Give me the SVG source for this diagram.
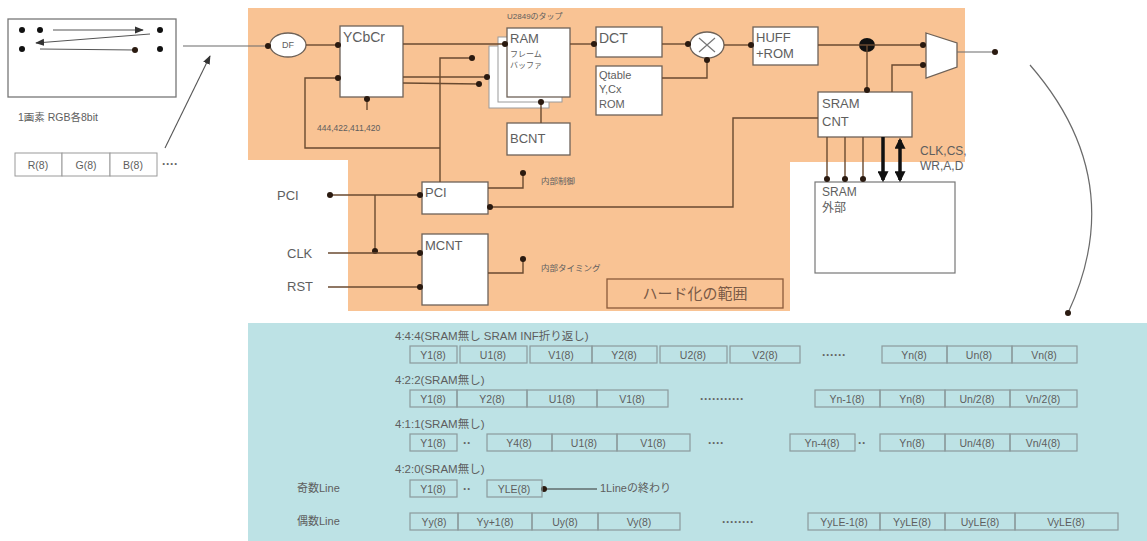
<svg xmlns="http://www.w3.org/2000/svg" width="1147" height="541" viewBox="0 0 1147 541">
<defs>
<style>
text{font-family:"Liberation Sans","Noto Sans CJK JP",sans-serif;fill:#5e5e5e}
.blk{fill:#fff;stroke:#6e6258;stroke-width:1.3}
.blk2{fill:#fff;stroke:#9a9a9a;stroke-width:1}
.ln{fill:none;stroke:#6a4a30;stroke-width:1.4}
.lg{fill:none;stroke:#6a6a6a;stroke-width:1.2}
.cell{fill:none;stroke:#8b9a9c;stroke-width:1.2}
.ct{font-size:10.5px;text-anchor:middle}
.rl{font-size:11.5px}
.bt{font-size:14px}
.sm{font-size:9px}
.dots{font-size:12px;font-weight:bold;fill:#666}
</style>
<marker id="dot" viewBox="0 0 8 8" refX="4" refY="4" markerWidth="8" markerHeight="8" markerUnits="userSpaceOnUse"><circle cx="4" cy="4" r="3" fill="#2a1a10"/></marker>
<marker id="arr" viewBox="0 0 10 10" refX="9" refY="5" markerWidth="9" markerHeight="9" markerUnits="userSpaceOnUse" orient="auto"><path d="M0,1 L10,5 L0,9 Z" fill="#333"/></marker>
<marker id="tarr" viewBox="0 0 10 10" refX="8" refY="5" markerWidth="11" markerHeight="11" markerUnits="userSpaceOnUse" orient="auto-start-reverse"><path d="M0,0 L10,5 L0,10 Z" fill="#111"/></marker>
</defs>

<!-- background regions -->
<g id="hw-area">
<path d="M248,8 H965 V162 H790 V311 H348 V160 H248 Z" fill="#F9C394"/>
</g>
<g id="format-panel">
<rect x="248" y="323" width="899" height="218" fill="#BDE2E5"/>
</g>

<!-- left pixel image -->
<g id="pixel-image">
<rect x="8" y="19" width="168" height="78" fill="#fff" stroke="#777" stroke-width="1.3"/>
<circle cx="22" cy="30" r="3" fill="#111"/>
<circle cx="40" cy="30" r="3" fill="#111"/>
<circle cx="160" cy="30" r="3" fill="#111"/>
<circle cx="22" cy="49" r="3" fill="#111"/>
<circle cx="160" cy="49" r="3" fill="#111"/>
<line x1="53" y1="30" x2="143" y2="30" stroke="#555" stroke-width="1" marker-end="url(#arr)"/>
<line x1="150" y1="34" x2="36" y2="43" stroke="#555" stroke-width="1" marker-end="url(#arr)"/>
<line x1="40" y1="49" x2="135" y2="50" stroke="#555" stroke-width="1" marker-end="url(#dot)"/>
<text x="18" y="121" font-size="10.5">1画素  RGB各8bit</text>
</g>
<g id="rgb-cells">
<rect x="15" y="153" width="47" height="23" class="blk2"/>
<rect x="62" y="153" width="48" height="23" class="blk2"/>
<rect x="110" y="153" width="47" height="23" class="blk2"/>
<text x="38" y="169" class="ct" font-size="11">R(8)</text>
<text x="86" y="169" class="ct" font-size="11">G(8)</text>
<text x="133" y="169" class="ct" font-size="11">B(8)</text>
<text x="162" y="168" class="dots">····</text>
</g>

<!-- nodes -->
<g id="df"><ellipse cx="288" cy="45" rx="18" ry="12" class="blk"/><text x="288" y="48" class="sm" text-anchor="middle">DF</text></g>
<g id="ycbcr"><rect x="340" y="26" width="63" height="71" class="blk"/><text x="343" y="42" class="bt">YCbCr</text></g>
<g id="ycbcr-label"><text x="317" y="131" font-size="8.5">444,422,411,420</text></g>
<g id="ram">
<rect x="489" y="46" width="60" height="62" class="blk2"/>
<rect x="498" y="37" width="64" height="65" class="blk2"/>
<rect x="507" y="28" width="63" height="69" class="blk"/>
<text x="510" y="43" font-size="13">RAM</text>
<text x="510" y="57" font-size="8">フレーム</text>
<text x="510" y="68" font-size="8">バッファ</text>
<text x="507" y="19" font-size="8">U2849のタップ</text>
</g>
<g id="bcnt"><rect x="507" y="123" width="63" height="32" class="blk"/><text x="510" y="143" font-size="13">BCNT</text></g>
<g id="dct"><rect x="596" y="27" width="66" height="30" class="blk"/><text x="599" y="43" font-size="14">DCT</text></g>
<g id="qtable"><rect x="596" y="66" width="66" height="49" class="blk"/><text x="599" y="79" font-size="11">Qtable</text><text x="599" y="93" font-size="11">Y,Cx</text><text x="599" y="108" font-size="11">ROM</text></g>
<g id="mult"><ellipse cx="707" cy="45" rx="17" ry="13" class="blk"/><path d="M699,38 L715,52 M715,38 L699,52" stroke="#777" stroke-width="1.2"/></g>
<g id="huff"><rect x="753" y="27" width="65" height="38" class="blk"/><text x="756" y="42" font-size="13">HUFF</text><text x="756" y="58" font-size="13">+ROM</text></g>
<g id="junction"><ellipse cx="867" cy="45" rx="8" ry="7" fill="#111"/></g>
<g id="mux"><path d="M926,33 L957,43 L957,67 L926,78 Z" class="blk"/></g>
<g id="sram-cnt"><rect x="818" y="92" width="94" height="45" class="blk"/><text x="822" y="108" font-size="13">SRAM</text><text x="822" y="126" font-size="13">CNT</text></g>
<g id="sram-ext"><rect x="815" y="182" width="140" height="91" fill="#fff" stroke="#777" stroke-width="1.2"/><text x="822" y="196" font-size="12">SRAM</text><text x="822" y="212" font-size="12">外部</text></g>
<g id="sram-sig"><text x="920" y="155" font-size="12">CLK,CS,</text><text x="920" y="170" font-size="12">WR,A,D</text></g>
<g id="pci"><rect x="422" y="182" width="66" height="32" class="blk"/><text x="425" y="197" font-size="13">PCI</text></g>
<g id="mcnt"><rect x="422" y="234" width="66" height="71" class="blk"/><text x="425" y="250" font-size="13">MCNT</text></g>
<g id="io-labels"><text x="277" y="200" font-size="13">PCI</text><text x="287" y="258" font-size="13">CLK</text><text x="287" y="291" font-size="13">RST</text></g>
<g id="internal-labels"><text x="541" y="184" font-size="8.5">内部制御</text><text x="541" y="271" font-size="8.5">内部タイミング</text></g>
<g id="hw-scope"><rect x="607" y="279" width="176" height="29" fill="none" stroke="#8a5a3a" stroke-width="1.3"/><text x="695" y="299" font-size="15" text-anchor="middle" style="fill:#7a5a46">ハード化の範囲</text></g>

<!-- connectors -->
<g id="connectors">
<line x1="183" y1="46" x2="268" y2="46" class="lg" marker-end="url(#dot)"/>
<line x1="165" y1="148" x2="210" y2="56" stroke="#555" stroke-width="1.1" marker-end="url(#arr)"/>
<line x1="306" y1="45" x2="338" y2="45" class="ln" marker-end="url(#dot)"/>
<line x1="403" y1="44" x2="505" y2="44" class="ln" marker-end="url(#dot)"/>
<line x1="403" y1="77" x2="487" y2="77" class="ln" marker-end="url(#dot)"/>
<line x1="403" y1="83" x2="479" y2="84" class="ln" marker-end="url(#dot)"/>
<polyline points="440,182 440,58 472,58" class="ln" marker-end="url(#dot)"/>
<polyline points="440,148 305,148 305,78 338,78" class="ln" marker-end="url(#dot)"/>
<line x1="367" y1="110" x2="367" y2="99" class="ln" marker-end="url(#dot)"/>
<line x1="541" y1="123" x2="541" y2="102" class="ln" marker-end="url(#dot)"/>
<line x1="570" y1="44" x2="594" y2="44" class="ln" marker-end="url(#dot)"/>
<line x1="662" y1="44" x2="688" y2="44" class="ln" marker-end="url(#dot)"/>
<polyline points="662,78 707,78 707,60" class="ln" marker-end="url(#dot)"/>
<line x1="724" y1="45" x2="751" y2="45" class="ln" marker-end="url(#dot)"/>
<line x1="818" y1="45" x2="923" y2="45" class="ln" marker-end="url(#dot)"/>
<line x1="867" y1="45" x2="867" y2="90" class="ln" marker-end="url(#dot)"/>
<polyline points="892,92 892,65 923,65" class="ln" marker-end="url(#dot)"/>
<line x1="957" y1="52" x2="995" y2="52" class="lg" marker-end="url(#dot)"/>
<polyline points="818,118 733,118 733,207 490,207" class="ln" marker-end="url(#dot)"/>
<line x1="827" y1="137" x2="827" y2="179" class="ln" marker-end="url(#dot)"/>
<line x1="845" y1="137" x2="845" y2="179" class="ln" marker-end="url(#dot)"/>
<line x1="863" y1="137" x2="863" y2="179" class="ln" marker-end="url(#dot)"/>
<line x1="883" y1="137" x2="883" y2="180" stroke="#111" stroke-width="3.5" marker-end="url(#tarr)"/>
<line x1="900" y1="140" x2="900" y2="180" stroke="#111" stroke-width="3.5" marker-start="url(#tarr)" marker-end="url(#tarr)"/>
<line x1="420" y1="195" x2="330" y2="195" class="ln" marker-start="url(#dot)" marker-end="url(#dot)"/>
<line x1="375" y1="195" x2="375" y2="251" class="ln" marker-end="url(#dot)"/>
<line x1="328" y1="253" x2="420" y2="253" class="ln" marker-end="url(#dot)"/>
<line x1="328" y1="287" x2="420" y2="287" class="ln" marker-end="url(#dot)"/>
<polyline points="488,188 523,188 523,173" class="ln" marker-end="url(#dot)"/>
<polyline points="488,273 523,273 523,259" class="ln" marker-end="url(#dot)"/>
<path d="M1030,65 Q1130,180 1068,313" class="lg" marker-end="url(#dot)"/>
<line x1="597" y1="489" x2="544" y2="489" stroke="#333" stroke-width="1.1" marker-end="url(#dot)"/>
</g>

<!-- format rows -->
<g id="row-444">
<text x="395" y="340" class="rl">4:4:4(SRAM無し  SRAM INF折り返し)</text>
<rect x="410" y="346" width="47" height="17" class="cell"/><text x="433" y="359" class="ct">Y1(8)</text>
<rect x="460" y="346" width="67" height="17" class="cell"/><text x="493" y="359" class="ct">U1(8)</text>
<rect x="530" y="346" width="62" height="17" class="cell"/><text x="561" y="359" class="ct">V1(8)</text>
<rect x="592" y="346" width="65" height="17" class="cell"/><text x="624" y="359" class="ct">Y2(8)</text>
<rect x="660" y="346" width="67" height="17" class="cell"/><text x="693" y="359" class="ct">U2(8)</text>
<rect x="730" y="346" width="70" height="17" class="cell"/><text x="765" y="359" class="ct">V2(8)</text>
<text x="822" y="359" class="dots">······</text>
<rect x="882" y="346" width="65" height="17" class="cell"/><text x="914" y="359" class="ct">Yn(8)</text>
<rect x="947" y="346" width="65" height="17" class="cell"/><text x="979" y="359" class="ct">Un(8)</text>
<rect x="1012" y="346" width="65" height="17" class="cell"/><text x="1044" y="359" class="ct">Vn(8)</text>
</g>
<g id="row-422">
<text x="395" y="384" class="rl">4:2:2(SRAM無し)</text>
<rect x="410" y="390" width="47" height="17" class="cell"/><text x="433" y="403" class="ct">Y1(8)</text>
<rect x="457" y="390" width="70" height="17" class="cell"/><text x="492" y="403" class="ct">Y2(8)</text>
<rect x="527" y="390" width="70" height="17" class="cell"/><text x="562" y="403" class="ct">U1(8)</text>
<rect x="597" y="390" width="71" height="17" class="cell"/><text x="632" y="403" class="ct">V1(8)</text>
<text x="700" y="403" class="dots">···········</text>
<rect x="815" y="390" width="65" height="17" class="cell"/><text x="847" y="403" class="ct">Yn-1(8)</text>
<rect x="880" y="390" width="65" height="17" class="cell"/><text x="912" y="403" class="ct">Yn(8)</text>
<rect x="945" y="390" width="65" height="17" class="cell"/><text x="977" y="403" class="ct">Un/2(8)</text>
<rect x="1010" y="390" width="67" height="17" class="cell"/><text x="1043" y="403" class="ct">Vn/2(8)</text>
</g>
<g id="row-411">
<text x="395" y="428" class="rl">4:1:1(SRAM無し)</text>
<rect x="410" y="434" width="47" height="17" class="cell"/><text x="433" y="447" class="ct">Y1(8)</text>
<text x="463" y="447" class="dots">··</text>
<rect x="487" y="434" width="65" height="17" class="cell"/><text x="519" y="447" class="ct">Y4(8)</text>
<rect x="552" y="434" width="65" height="17" class="cell"/><text x="584" y="447" class="ct">U1(8)</text>
<rect x="617" y="434" width="73" height="17" class="cell"/><text x="653" y="447" class="ct">V1(8)</text>
<text x="708" y="447" class="dots">····</text>
<rect x="790" y="434" width="65" height="17" class="cell"/><text x="822" y="447" class="ct">Yn-4(8)</text>
<text x="858" y="447" class="dots">··</text>
<rect x="880" y="434" width="65" height="17" class="cell"/><text x="912" y="447" class="ct">Yn(8)</text>
<rect x="945" y="434" width="65" height="17" class="cell"/><text x="977" y="447" class="ct">Un/4(8)</text>
<rect x="1010" y="434" width="67" height="17" class="cell"/><text x="1043" y="447" class="ct">Vn/4(8)</text>
</g>
<g id="row-420">
<text x="395" y="473" class="rl">4:2:0(SRAM無し)</text>
<text x="297" y="492" font-size="11">奇数Line</text>
<rect x="410" y="480" width="47" height="17" class="cell"/><text x="433" y="493" class="ct">Y1(8)</text>
<text x="463" y="493" class="dots">··</text>
<rect x="487" y="480" width="55" height="17" class="cell"/><text x="514" y="493" class="ct">YLE(8)</text>
<text x="600" y="492" font-size="11">1Lineの終わり</text>
<text x="297" y="525" font-size="11">偶数Line</text>
<rect x="410" y="513" width="48" height="17" class="cell"/><text x="434" y="526" class="ct">Yy(8)</text>
<rect x="458" y="513" width="74" height="17" class="cell"/><text x="495" y="526" class="ct">Yy+1(8)</text>
<rect x="532" y="513" width="66" height="17" class="cell"/><text x="565" y="526" class="ct">Uy(8)</text>
<rect x="598" y="513" width="82" height="17" class="cell"/><text x="639" y="526" class="ct">Vy(8)</text>
<text x="722" y="526" class="dots">········</text>
<rect x="808" y="513" width="72" height="17" class="cell"/><text x="844" y="526" class="ct">YyLE-1(8)</text>
<rect x="880" y="513" width="65" height="17" class="cell"/><text x="912" y="526" class="ct">YyLE(8)</text>
<rect x="945" y="513" width="70" height="17" class="cell"/><text x="980" y="526" class="ct">UyLE(8)</text>
<rect x="1015" y="513" width="103" height="17" class="cell"/><text x="1066" y="526" class="ct">VyLE(8)</text>
</g>
</svg>
